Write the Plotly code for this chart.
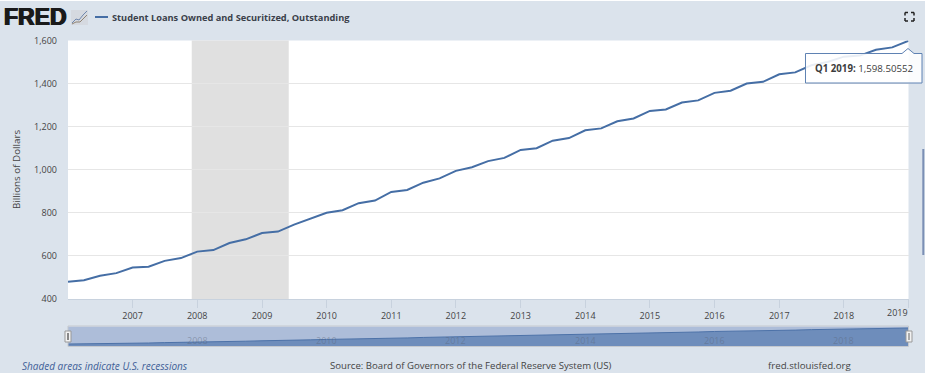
import plotly.graph_objects as go

quarters = [f"{y}-{m:02d}-01" for y in range(2006, 2019) for m in (1, 4, 7, 10)] + ["2019-01-01"]
loans = [480, 487, 508, 520, 546, 550, 577, 590, 620, 627, 660, 677,
         706, 713, 745, 772, 800, 812, 845, 857, 897, 906, 940, 960,
         995, 1012, 1040, 1055, 1092, 1100, 1135, 1147, 1183, 1192, 1225, 1238,
         1273, 1280, 1312, 1322, 1357, 1367, 1400, 1408, 1443, 1452, 1485, 1500,
         1525, 1530, 1557, 1568, 1598.50552]
recession = ["2007-12-01", "2009-06-01"]
y_ticks = [400, 600, 800, 1000, 1200, 1400, 1600]
x_ticks = [f"{y}-01-01" for y in range(2007, 2020)]
x_labels = [str(y) for y in range(2007, 2019)] + [""]
last_label = "2019"
nav_years = [2008, 2010, 2012, 2014, 2016, 2018]
title = "Student Loans Owned and Securitized, Outstanding"
source = "Source: Board of Governors of the Federal Reserve System (US)"
note = "<i>Shaded areas indicate U.S. recessions</i>"
tooltip_label = "<b>Q1 2019:</b> 1,598.50552"

W, H = 925, 374
BG = "#dbe3ec"
LINE = "#456ea5"
FONT = "Open Sans"
TXT = "#444444"
def px(v): return v / W
def py(v): return 1 - v / H
def path(points, close=False):
    d = "M" + " L".join(f"{px(a):.5f},{py(b):.5f}" for a, b in points)
    return d + (" Z" if close else "")

fig = go.Figure()
fig.add_trace(go.Scatter(x=quarters, y=loans, mode="lines", line=dict(color=LINE, width=2),
                         hoverinfo="skip", showlegend=False, xaxis="x", yaxis="y", cliponaxis=True))
fig.add_trace(go.Scatter(x=quarters, y=loans, mode="lines", fill="tozeroy", fillcolor="#6e8dbb",
                         line=dict(color="#4d72a8", width=1), hoverinfo="skip", showlegend=False,
                         xaxis="x2", yaxis="y2"))

def paper(**kw):
    return dict(xref="paper", yref="paper", **kw)

shapes = [
    dict(type="rect", xref="x", yref="paper", x0=recession[0], x1=recession[1],
         y0=py(299), y1=py(40.5), fillcolor="#e0e0e0", line_width=0, layer="below"),
    paper(type="rect", x0=0, x1=1, y0=py(1), y1=1, fillcolor="#ffffff", line_width=0),
    paper(type="rect", x0=0, x1=1, y0=0, y1=py(373), fillcolor="#ffffff", line_width=0),
    # navigator background and frame
    paper(type="rect", x0=px(68), x1=px(908.5), y0=py(346), y1=py(326.5), fillcolor="#adbdd9", line_width=0, layer="below"),
    paper(type="rect", x0=px(68), x1=px(908.5), y0=py(346.5), y1=py(326), fillcolor="rgba(0,0,0,0)",
          line=dict(color="#c4c8ce", width=1)),
    # navigator handles
    paper(type="rect", x0=px(65), x1=px(71), y0=py(342), y1=py(331), fillcolor="#f2f2f2", line=dict(color="#999999", width=1)),
    paper(type="rect", x0=px(906), x1=px(912), y0=py(342), y1=py(331), fillcolor="#f2f2f2", line=dict(color="#999999", width=1)),
    paper(type="line", x0=px(68), x1=px(68), y0=py(340), y1=py(333), line=dict(color="#888888", width=2)),
    paper(type="line", x0=px(909), x1=px(909), y0=py(340), y1=py(333), line=dict(color="#aaaaaa", width=2)),
    # legend key
    paper(type="line", x0=px(95), x1=px(108), y0=py(17), y1=py(17), line=dict(color=LINE, width=2)),
    # tooltip box with pointer
    paper(type="path", path=path([(805.5, 53.5), (902, 53.5), (908, 48.5), (914, 53.5), (922, 53.5), (922, 83), (805.5, 83)], True),
          fillcolor="rgba(255,255,255,0.88)", line=dict(color="#5f82b3", width=1), layer="above"),
    # sparkline icon
    paper(type="rect", x0=px(71), x1=px(88), y0=py(25), y1=py(10), fillcolor="#d5d9e0", line_width=0),
    paper(type="path", path=path([(72, 23), (76, 19), (79, 20), (83, 15), (87, 11)]), line=dict(color="#6f87ad", width=1)),
    paper(type="path", path=path([(72, 24), (76, 22), (80, 22), (84, 18), (87, 15)]), line=dict(color="#8f8272", width=1)),
    # scrollbar sliver
    paper(type="rect", x0=px(922.3), x1=px(924.3), y0=py(255), y1=py(149), fillcolor="#7b8fb5", line_width=0),
]
for cx, cy, dx, dy in [(905, 12.5, 3, 3), (914, 12.5, -3, 3), (905, 21, 3, -3), (914, 21, -3, -3)]:
    shapes.append(paper(type="line", x0=px(cx), x1=px(cx + dx), y0=py(cy), y1=py(cy), line=dict(color="#222222", width=1.5)))
    shapes.append(paper(type="line", x0=px(cx), x1=px(cx), y0=py(cy), y1=py(cy + dy), line=dict(color="#222222", width=1.5)))

annotations = [
    dict(text="<b>FRED</b>", x=px(2), y=py(17.5), xanchor="left", yanchor="middle", showarrow=False,
         font=dict(family="Liberation Sans", size=23, color="#1a1a1a",
                   shadow="0.7px 0 0 #1a1a1a, -0.7px 0 0 #1a1a1a")),
    dict(text="<b>" + title + "</b>", x=px(110), y=py(17.5), xanchor="left", yanchor="middle", showarrow=False,
         font=dict(family=FONT, size=9.25, color="#3a3f4a")),
    dict(text="Billions of Dollars", x=px(16), y=py(170), xanchor="center", yanchor="middle", textangle=-90,
         showarrow=False, font=dict(family=FONT, size=9.8, color=TXT)),
    dict(text=note, x=px(20), y=py(365.5), xanchor="left", yanchor="middle", showarrow=False,
         font=dict(family=FONT, size=10, color="#3e5f98")),
    dict(text=source, x=px(328), y=py(365.5), xanchor="left", yanchor="middle", showarrow=False,
         font=dict(family=FONT, size=9.6, color=TXT)),
    dict(text="fred.stlouisfed.org", x=px(766), y=py(365.5), xanchor="left", yanchor="middle", showarrow=False,
         font=dict(family=FONT, size=9.7, color=TXT)),
    dict(text=tooltip_label, x=px(813), y=py(68.5), xanchor="left", yanchor="middle", showarrow=False,
         font=dict(family=FONT, size=9.7, color="#3c3c3c")),
    dict(text=last_label, x=px(909.5), y=py(312), xanchor="right", yanchor="middle", showarrow=False,
         font=dict(family=FONT, size=9, color=TXT)),
]
for yr in nav_years:
    annotations.append(dict(text=str(yr), x=f"{yr}-01-01", xref="x2", y=py(340), yref="paper", xanchor="center",
                            yanchor="middle", showarrow=False,
                            font=dict(family=FONT, size=9, color="rgba(90,100,120,0.45)")))
for a in annotations:
    a.setdefault("xref", "paper")
    a.setdefault("yref", "paper")

fig.update_layout(
    width=W, height=H, autosize=False,
    margin=dict(l=0, r=0, t=0, b=0, pad=0, autoexpand=False),
    paper_bgcolor=BG, plot_bgcolor="#ffffff",
    shapes=shapes, annotations=annotations, showlegend=False,
    xaxis=dict(domain=[px(68), px(908.5)], range=["2006-01-01", "2019-01-01"], tickvals=x_ticks, ticktext=x_labels,
               showgrid=False, ticks="outside", ticklen=8, tickcolor="#c8d2de", linecolor="#c8d2de", showline=True,
               tickfont=dict(family=FONT, size=9, color=TXT), anchor="y", zeroline=False),
    yaxis=dict(domain=[py(299), py(40.5)], range=[400, 1600], tickvals=y_ticks, tickformat=",",
               gridcolor="#e6e6e6", gridwidth=1, showline=False, zeroline=False, ticks="", ticklabelstandoff=10,
               tickfont=dict(family=FONT, size=9, color=TXT), anchor="x"),
    xaxis2=dict(domain=[px(68), px(908.5)], range=["2006-01-01", "2019-01-01"], visible=False, anchor="y2"),
    yaxis2=dict(domain=[py(346), py(326.5)], range=[340, 1705], visible=False, anchor="x2"),
)
fig.write_html("out.html", config=dict(displayModeBar=False),
               post_script="document.body.style.margin='0';document.documentElement.style.overflow='hidden';")
